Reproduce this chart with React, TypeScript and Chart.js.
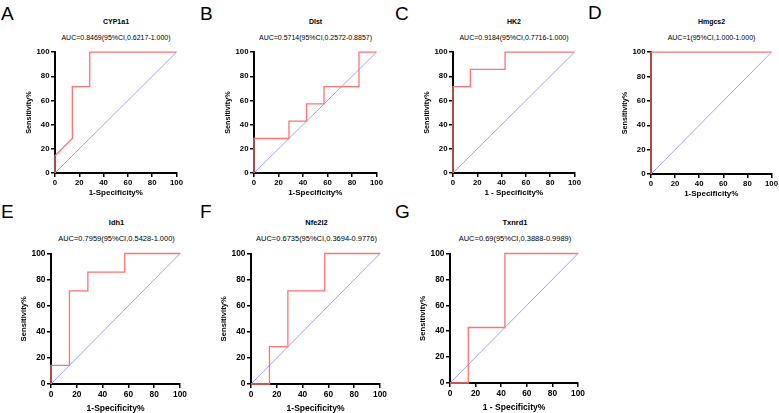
import React, { useEffect, useRef } from "react";
import { Chart, registerables } from "chart.js";
Chart.register(...registerables);

// ---------- data ----------
const tickValues = [0, 20, 40, 60, 80, 100];
const diagonalX = [0, 100];
const diagonalY = [0, 100];

const cyp1a1Fpr = [0, 0, 14.29, 14.29, 28.57, 28.57, 100];
const cyp1a1Sens = [0, 14.29, 28.57, 71.43, 71.43, 100, 100];

const dlstFpr = [0, 0, 28.57, 28.57, 42.86, 42.86, 57.14, 57.14, 85.71, 85.71, 100];
const dlstSens = [0, 28.57, 28.57, 42.86, 42.86, 57.14, 57.14, 71.43, 71.43, 100, 100];

const hk2Fpr = [0, 0, 14.29, 14.29, 42.86, 42.86, 100];
const hk2Sens = [0, 71.43, 71.43, 85.71, 85.71, 100, 100];

const hmgcs2Fpr = [0, 0, 100];
const hmgcs2Sens = [0, 100, 100];

const idh1Fpr = [0, 0, 14.29, 14.29, 28.57, 28.57, 57.14, 57.14, 100];
const idh1Sens = [0, 14.29, 14.29, 71.43, 71.43, 85.71, 85.71, 100, 100];

const nfe2l2Fpr = [0, 14.29, 14.29, 28.57, 28.57, 57.14, 57.14, 100];
const nfe2l2Sens = [0, 0, 28.57, 28.57, 71.43, 71.43, 100, 100];

const txnrd1Fpr = [0, 14.29, 14.29, 42.86, 42.86, 100];
const txnrd1Sens = [0, 0, 42.86, 42.86, 100, 100];

const panelLetters = ["A", "B", "C", "D", "E", "F", "G"];
const geneNames = ["CYP1a1", "Dlst", "HK2", "Hmgcs2", "Idh1", "Nfe2l2", "Txnrd1"];
const aucLabels = [
  "AUC=0.8469(95%CI,0.6217-1.000)",
  "AUC=0.5714(95%CI,0.2572-0.8857)",
  "AUC=0.9184(95%CI,0.7716-1.000)",
  "AUC=1(95%CI,1.000-1.000)",
  "AUC=0.7959(95%CI,0.5428-1.000)",
  "AUC=0.6735(95%CI,0.3694-0.9776)",
  "AUC=0.69(95%CI,0.3888-0.9989)",
];
const xTitles = [
  "1-Specificity%", "1-Specificity%", "1 - Specificity%", "1-Specificity%",
  "1-Specificity%", "1-Specificity%", "1 - Specificity%",
];
const yTitle = "Sensitivity%";
const fprSeries = [cyp1a1Fpr, dlstFpr, hk2Fpr, hmgcs2Fpr, idh1Fpr, nfe2l2Fpr, txnrd1Fpr];
const sensSeries = [cyp1a1Sens, dlstSens, hk2Sens, hmgcs2Sens, idh1Sens, nfe2l2Sens, txnrd1Sens];

// ---------- layout ----------
const FONT = "'Liberation Sans', Arial, Helvetica, sans-serif";
const RED = "#ff7373";
const BLUE = "#a0a0ff";

type Geo = { l: number; t: number; r: number; b: number; letterX: number; letterTop: number; titleY: number; aucY: number; row: number };
const geos: Geo[] = [
  { l: 55, t: 52, r: 177, b: 173, letterX: 1, letterTop: 4, titleY: 22.3, aucY: 38.3, row: 0 },
  { l: 254, t: 52, r: 377, b: 173, letterX: 200, letterTop: 4, titleY: 22, aucY: 38, row: 0 },
  { l: 453, t: 52, r: 575, b: 173, letterX: 395, letterTop: 4, titleY: 22, aucY: 38, row: 0 },
  { l: 651, t: 52, r: 772, b: 174, letterX: 588, letterTop: 3, titleY: 22, aucY: 38, row: 0 },
  { l: 51, t: 253, r: 182, b: 384, letterX: 1, letterTop: 202, titleY: 222.7, aucY: 239, row: 1 },
  { l: 251, t: 253, r: 382, b: 384, letterX: 200, letterTop: 202, titleY: 222.7, aucY: 239, row: 1 },
  { l: 450, t: 253, r: 580, b: 383, letterX: 395, letterTop: 202, titleY: 222.7, aucY: 239, row: 1 },
];

const PL = 2, PR = 7, PT = 6, PB = 2;

function Panel({ idx }: { idx: number }) {
  const ref = useRef<HTMLCanvasElement | null>(null);
  const g = geos[idx];
  const s = g.row === 0 ? 1 : 1.07;
  const YW = g.row === 0 ? 30 : 32;
  const XH = g.row === 0 ? 25 : 30;
  const w = g.r - g.l + YW + PL + PR;
  const h = g.b - g.t + PT + PB + XH;

  useEffect(() => {
    if (!ref.current) return;
    const fpr = fprSeries[idx];
    const sens = sensSeries[idx];
    const tickFont = { family: FONT, size: 7.8 * s, weight: "bold" as const };
    const chart = new Chart(ref.current, {
      type: "scatter",
      data: {
        datasets: [
          {
            data: fpr.map((x, i) => ({ x, y: sens[i] })),
            showLine: true,
            borderColor: RED,
            borderWidth: 1.3,
            pointRadius: 0,
            clip: false as any,
          },
          {
            data: diagonalX.map((x, i) => ({ x, y: diagonalY[i] })),
            showLine: true,
            borderColor: BLUE,
            borderWidth: 1,
            pointRadius: 0,
            clip: false as any,
          },
        ],
      },
      options: {
        responsive: false,
        animation: false,
        events: [],
        layout: { padding: { left: PL, right: PR, top: PT, bottom: PB } },
        plugins: { legend: { display: false }, tooltip: { enabled: false } },
        scales: {
          x: {
            type: "linear",
            min: 0,
            max: 100,
            afterBuildTicks: (sc: any) => {
              sc.ticks = tickValues.map((v) => ({ value: v }));
            },
            afterFit: (sc: any) => {
              sc.height = XH;
            },
            ticks: { color: "#000", font: tickFont, padding: g.row === 0 ? 1 : 2, maxRotation: 0, autoSkip: false },
            grid: { drawOnChartArea: false, drawTicks: true, tickLength: 4, color: "#000", lineWidth: 1.5 },
            border: { display: true, color: "#000", width: 2 },
            title: { display: true, text: xTitles[idx], color: "#000", font: { family: FONT, size: 8 * s, weight: "bold" }, padding: 0 },
          },
          y: {
            type: "linear",
            min: 0,
            max: 100,
            afterBuildTicks: (sc: any) => {
              sc.ticks = tickValues.map((v) => ({ value: v }));
            },
            afterFit: (sc: any) => {
              sc.width = YW;
            },
            ticks: { color: "#000", font: tickFont, padding: 1.5, autoSkip: false },
            grid: { drawOnChartArea: false, drawTicks: true, tickLength: 4, color: "#000", lineWidth: 1.5 },
            border: { display: true, color: "#000", width: 2 },
            title: { display: true, text: yTitle, color: "#000", font: { family: FONT, size: 7.2 * s, weight: "bold" }, padding: 0 },
          },
        },
      },
    } as any);
    return () => chart.destroy();
  }, [idx]);

  const cw = g.r - g.l;
  return (
    <>
      <div
        style={{
          position: "absolute",
          left: g.letterX,
          top: g.letterTop,
          fontFamily: FONT,
          fontSize: 19,
          lineHeight: "19px",
          color: "#000",
        }}
      >
        {panelLetters[idx]}
      </div>
      <div
        style={{
          position: "absolute",
          left: g.l - 40,
          width: cw + 80,
          top: g.titleY - 5,
          height: 10,
          lineHeight: "10px",
          textAlign: "center",
          fontFamily: FONT,
          fontWeight: "bold",
          fontSize: 7 * s,
          color: "#000",
          whiteSpace: "nowrap",
        }}
      >
        {geneNames[idx]}
      </div>
      <div
        style={{
          position: "absolute",
          left: g.l - 40,
          width: cw + 80,
          top: g.aucY - 5,
          height: 10,
          lineHeight: "10px",
          textAlign: "center",
          fontFamily: FONT,
          fontSize: 7 * s,
          color: "#000",
          whiteSpace: "nowrap",
        }}
      >
        {aucLabels[idx]}
      </div>
      <canvas
        ref={ref}
        width={w}
        height={h}
        style={{ position: "absolute", left: g.l - YW - PL, top: g.t - PT, width: w, height: h }}
      />
    </>
  );
}

export default function App() {
  return (
    <div
      style={{
        position: "fixed",
        left: 0,
        top: 0,
        width: 779,
        height: 413,
        background: "#fff",
        overflow: "hidden",
      }}
    >
      {geos.map((_, i) => (
        <Panel key={i} idx={i} />
      ))}
    </div>
  );
}
